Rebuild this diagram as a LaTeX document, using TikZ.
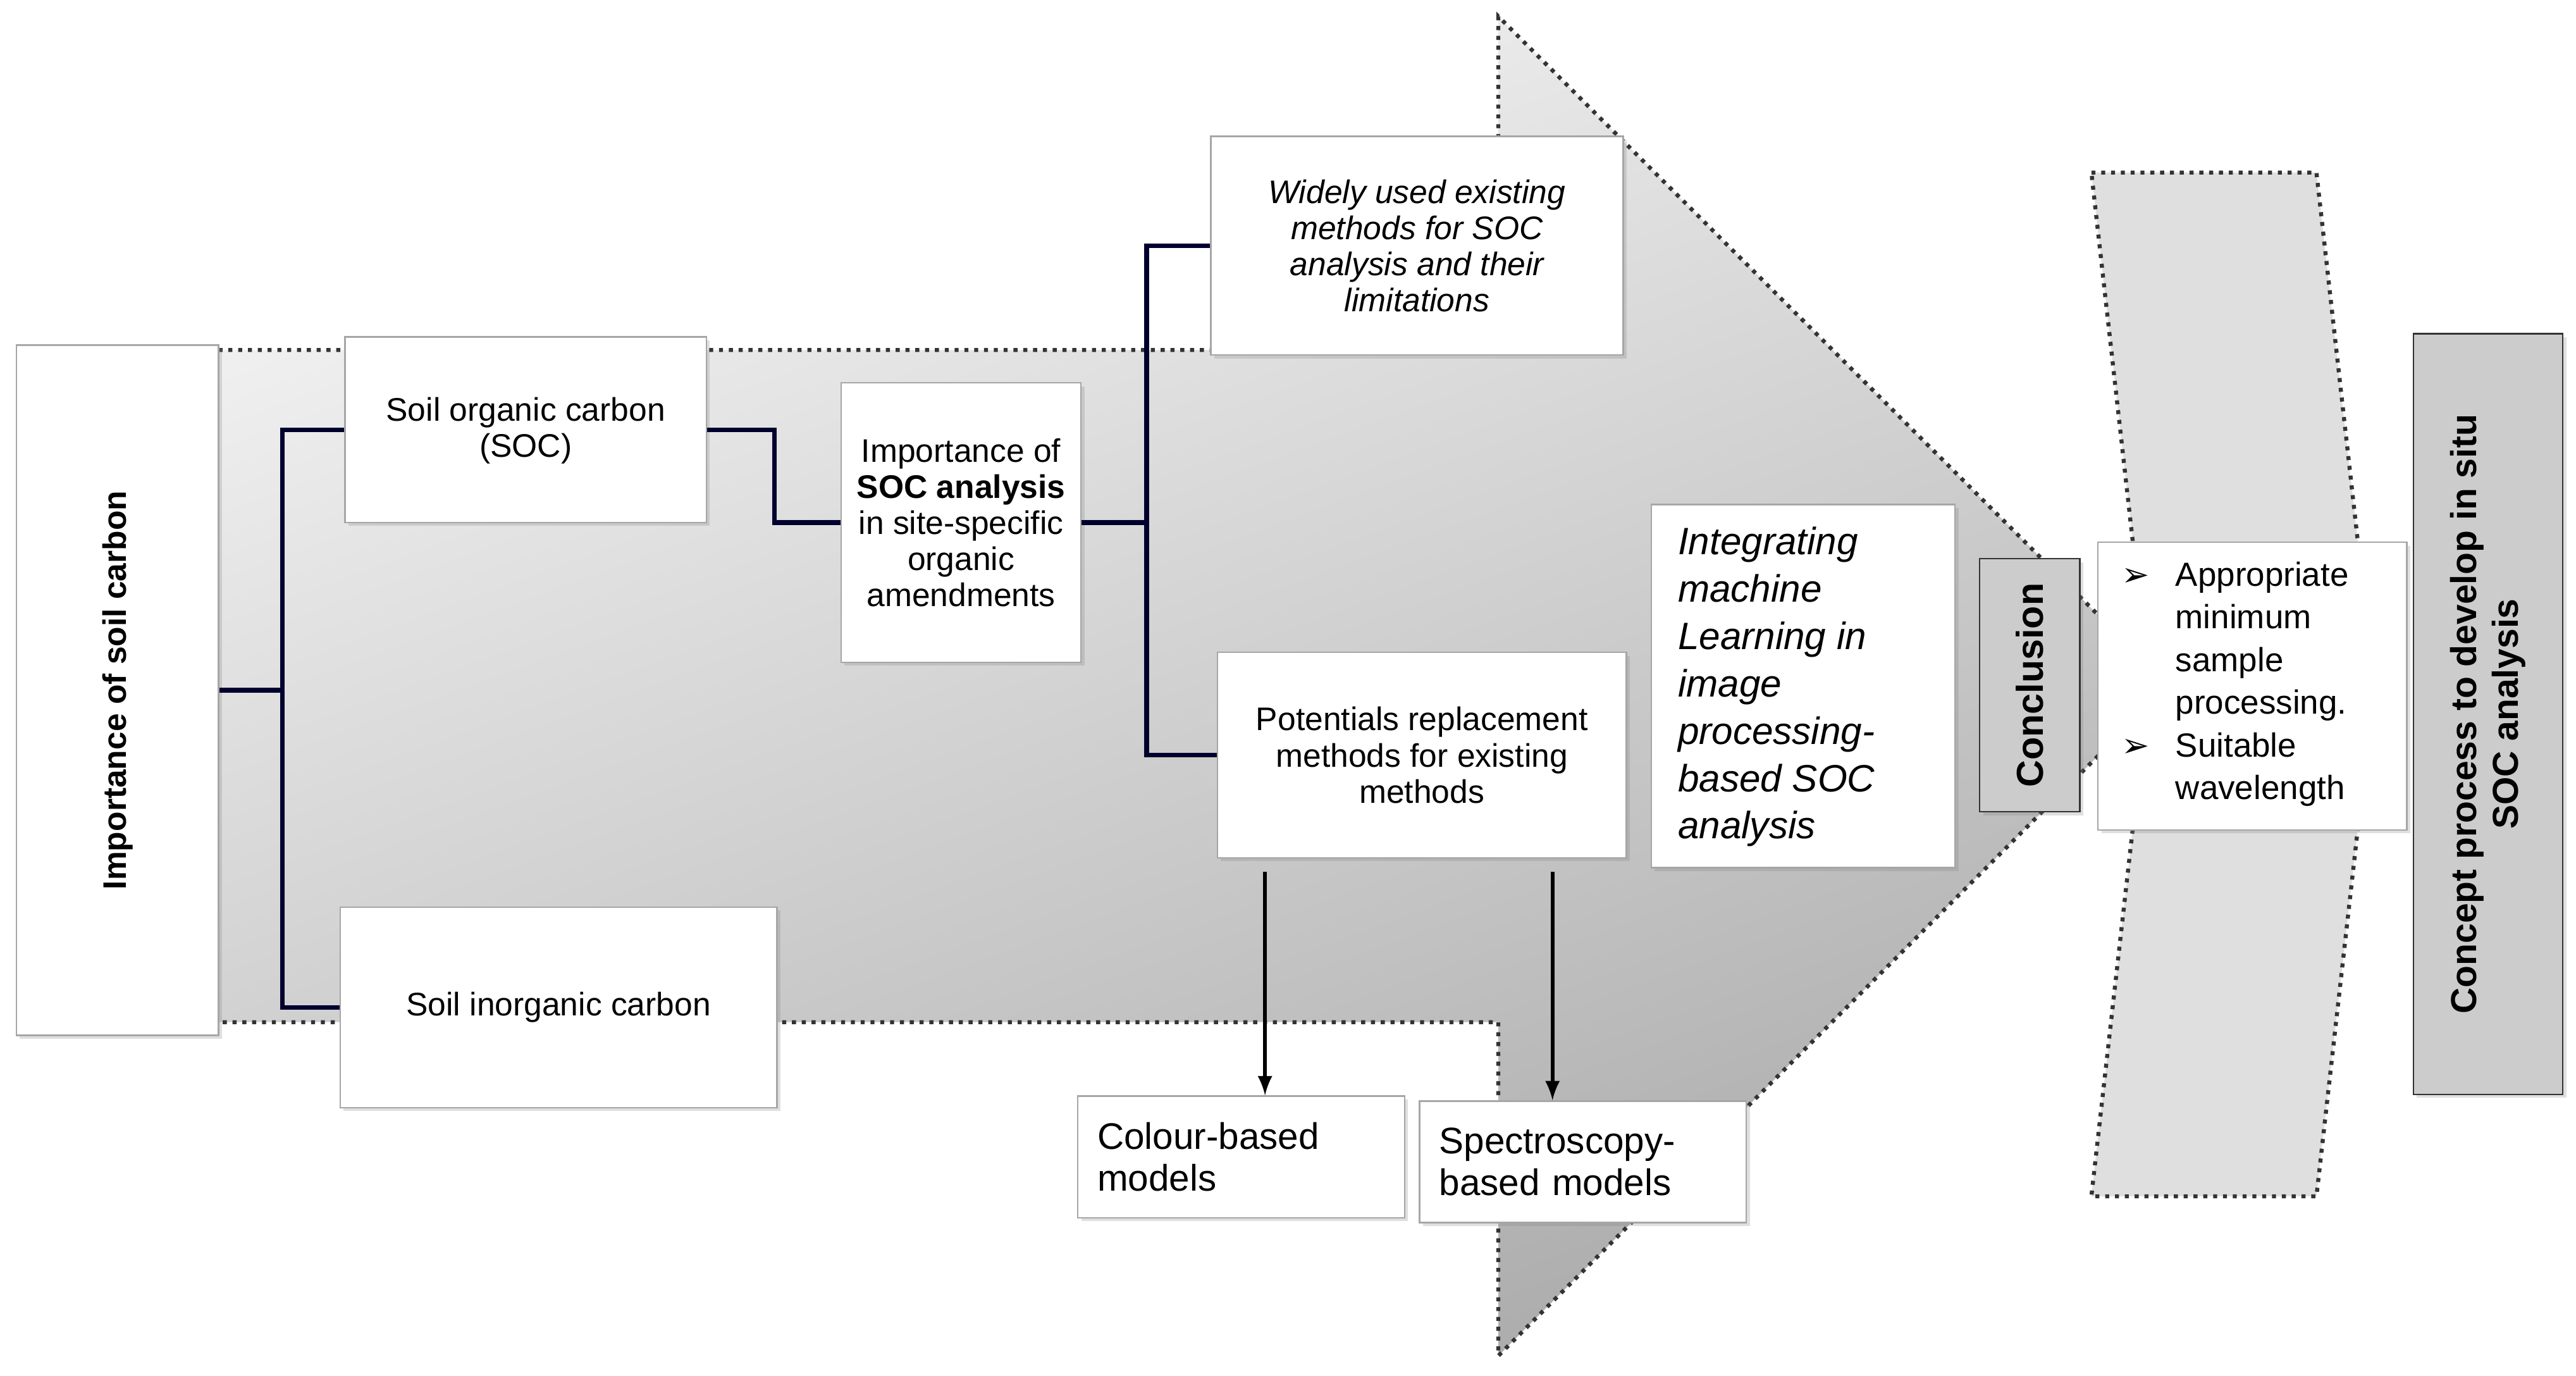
\documentclass[tikz,border=0pt]{standalone}
\usepackage{fontspec}
\setmainfont{Liberation Sans}
\newfontfamily\djv{DejaVu Sans}
\usetikzlibrary{calc,shadows}
\begin{document}
\begin{tikzpicture}[x=0.02cm,y=-0.02cm,
  box/.style={draw=gray!70,fill=white,line width=0.5pt,inner sep=2pt,align=center,
    font=\fontsize{11.3}{12.5}\selectfont,drop shadow={opacity=0.25,shadow xshift=1.2pt,shadow yshift=-1.2pt}},
  gbox/.style={box,fill=gray!40,draw=black!80},
  conn/.style={draw=black!70!blue!60!black,line width=1.6pt},
  arr/.style={draw=black,line width=1.3pt,-latex},
  dotb/.style={draw=black!80,dotted,line width=1.4pt}]
\useasboundingbox (0,0) rectangle (1568,837);
% big arrow
\shade[top color=gray!8,bottom color=gray!65,shading angle=20] (133,213)--(912,213)--(912,10)--(1320,417)--(912,825)--(912,622)--(133,622)--cycle;
\draw[dotb] (133,213)--(912,213)--(912,10)--(1320,417)--(912,825)--(912,622)--(133,622);
% chevron
\path[fill=gray!25,dotb] (1273,105)--(1410,105)--(1445,417)--(1410,728)--(1273,728)--(1308,417)--cycle;
% boxes
\node[box,minimum width=2.46cm,minimum height=8.4cm] (left) at (71.5,420) {};
\node[rotate=90,font=\fontsize{11.3}{12.5}\selectfont\bfseries] at (left) {Importance of soil carbon};
\node[box,minimum width=4.4cm,minimum height=2.26cm] (soc) at (320,261.5) {};
\node[font=\fontsize{11.3}{12.5}\selectfont,align=center] at (320,262) {Soil organic carbon\\(SOC)};
\node[box,minimum width=5.32cm,minimum height=2.44cm] (inorg) at (340,613) {Soil inorganic carbon};
\node[box,minimum width=2.92cm,minimum height=3.4cm] (imp) at (585,318) {Importance of\\\textbf{SOC analysis}\\in site-specific\\organic\\amendments};
\node[box,minimum width=5.02cm,minimum height=2.66cm] (wide) at (862.5,149.5) {\itshape Widely used existing\\\itshape methods for SOC\\\itshape analysis and their\\\itshape limitations};
\node[box,minimum width=4.98cm,minimum height=2.5cm] (pot) at (865.5,459.5) {Potentials replacement\\methods for existing\\methods};
\node[box,minimum width=3.7cm,minimum height=4.42cm] (integ) at (1097.5,417.5) {};
\node[anchor=west,align=left,inner sep=0pt,font=\fontsize{13.2}{16.4}\selectfont\itshape] at (1021,418) {Integrating\\machine\\Learning in\\image\\processing-\\based SOC\\analysis};
\node[gbox,minimum width=1.22cm,minimum height=3.08cm] (concl) at (1235.5,417) {};
\node[rotate=90,font=\fontsize{13}{14}\selectfont\bfseries] at (concl) {Conclusion};
\node[box,minimum width=3.76cm,minimum height=3.5cm] (bul) at (1371,417.5) {};
\node[font=\fontsize{11.6}{14.8}\selectfont,align=left,anchor=north west,inner sep=0pt] at (1291,338) {\begin{tabular}{@{}l@{\hspace{9pt}}l@{}}{\djv ➢}&Appropriate\\&minimum\\&sample\\&processing.\\{\djv ➢}&Suitable\\&wavelength\end{tabular}};
\node[gbox,minimum width=1.82cm,minimum height=9.26cm] (concept) at (1514.5,434.5) {};
\node[rotate=90,align=center,font=\fontsize{12.5}{14.5}\selectfont\bfseries] at (concept) {Concept process to develop in situ\\SOC analysis};
\node[box,minimum width=3.98cm,minimum height=1.48cm,align=left,text width=3.5cm,font=\fontsize{12.8}{14.5}\selectfont] (col) at (755.5,704) {Colour-based\\models};
\node[box,minimum width=3.98cm,minimum height=1.48cm,align=left,text width=3.5cm,font=\fontsize{12.8}{14.5}\selectfont] (spec) at (963.5,707) {Spectroscopy-\\based models};
% connectors
\coordinate (j1) at (172,420);
\draw[conn] (left.east) -- (j1);
\draw[conn] (soc.west) -| (j1) |- (inorg.west);
\draw[conn] (soc.east) -- ++(41,0) |- (imp.west);
\coordinate (j2) at (698,318);
\draw[conn] (imp.east) -- (j2);
\draw[conn] (wide.west) -| (j2) |- (pot.west);
\draw[arr] ($(pot.south)+(-95.5,8)$) coordinate (a1) -- (a1 |- col.north);
\draw[arr] ($(pot.south)+(79.5,8)$) coordinate (a2) -- (a2 |- spec.north);
\end{tikzpicture}
\end{document}
